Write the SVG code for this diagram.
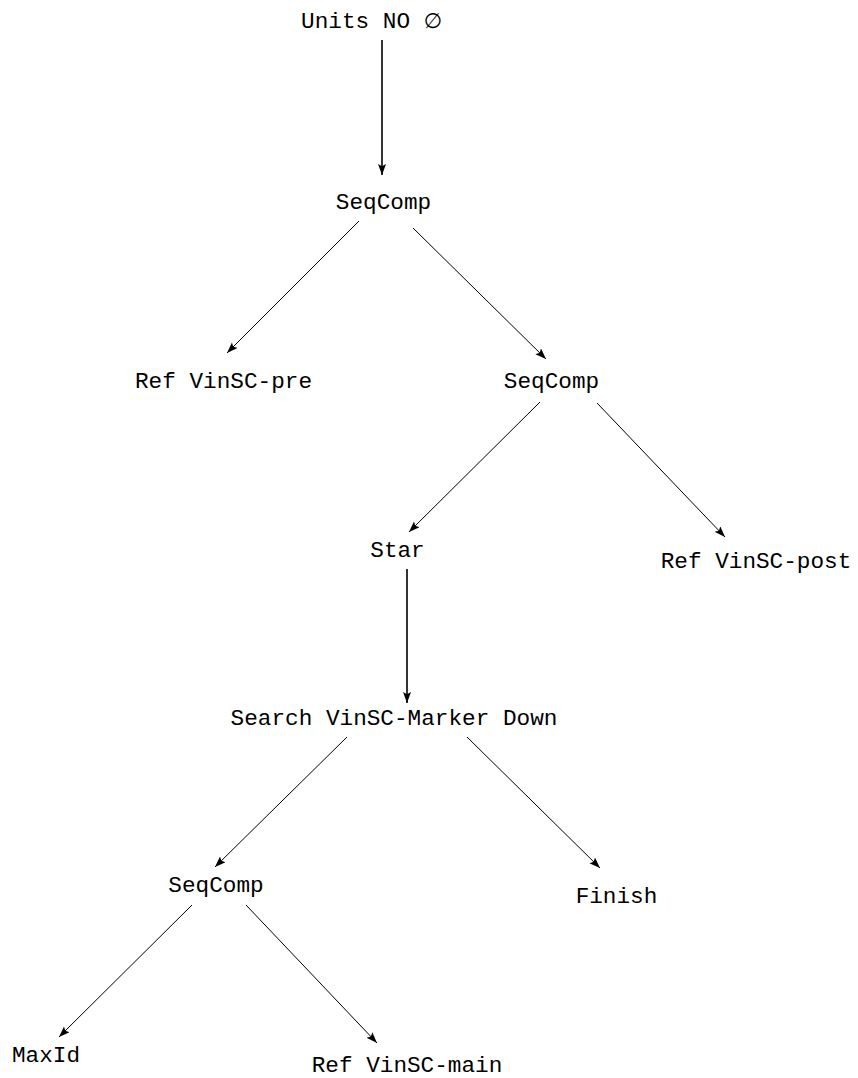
<svg xmlns="http://www.w3.org/2000/svg" width="858" height="1078" viewBox="0 0 858 1078">
  <style>
    .lbl { font-family: "Liberation Mono", "DejaVu Sans Mono", monospace; font-size: 22.7px; fill: #000; text-anchor: middle; }
    .sym { font-family: "DejaVu Sans", sans-serif; font-size: 21px; }
    .edge { stroke: #000; stroke-width: 1; fill: none; marker-end: url(#arrow); }
    .edge.thick { stroke-width: 1.6; }
  </style>
  <defs>
    <marker id="arrow" markerUnits="userSpaceOnUse" markerWidth="13" markerHeight="10" refX="11" refY="4" orient="auto">
      <path d="M0,0 L11,4 L0,8 L2.2,4 z" fill="#000"/>
    </marker>
  </defs>
  <rect width="858" height="1078" fill="#fff"/>

  <g id="connectors">
    <line class="edge thick" x1="382" y1="40" x2="382" y2="175"/>
    <line class="edge" x1="359" y1="221" x2="227" y2="353"/>
    <line class="edge" x1="413" y1="228" x2="546" y2="359"/>
    <line class="edge" x1="540" y1="402" x2="409" y2="532"/>
    <line class="edge" x1="597" y1="403" x2="725" y2="537"/>
    <line class="edge thick" x1="407" y1="569" x2="407" y2="703"/>
    <line class="edge" x1="347" y1="737" x2="215" y2="867"/>
    <line class="edge" x1="467" y1="737" x2="600" y2="868"/>
    <line class="edge" x1="192" y1="905" x2="59" y2="1037"/>
    <line class="edge" x1="246" y1="905" x2="377" y2="1043"/>
  </g>

  <g id="n-units"><text class="lbl" x="371.5" y="28">Units NO <tspan class="sym">∅</tspan></text></g>
  <g id="n-seqcomp1"><text class="lbl" x="383.5" y="209">SeqComp</text></g>
  <g id="n-ref-pre"><text class="lbl" x="223.5" y="388">Ref VinSC-pre</text></g>
  <g id="n-seqcomp2"><text class="lbl" x="551.5" y="388">SeqComp</text></g>
  <g id="n-star"><text class="lbl" x="397.5" y="557">Star</text></g>
  <g id="n-ref-post"><text class="lbl" x="756" y="568">Ref VinSC-post</text></g>
  <g id="n-search"><text class="lbl" x="394" y="725">Search VinSC-Marker Down</text></g>
  <g id="n-seqcomp3"><text class="lbl" x="216" y="892">SeqComp</text></g>
  <g id="n-finish"><text class="lbl" x="616.5" y="903">Finish</text></g>
  <g id="n-maxid"><text class="lbl" x="46" y="1062">MaxId</text></g>
  <g id="n-ref-main"><text class="lbl" x="407" y="1072">Ref VinSC-main</text></g>
</svg>
